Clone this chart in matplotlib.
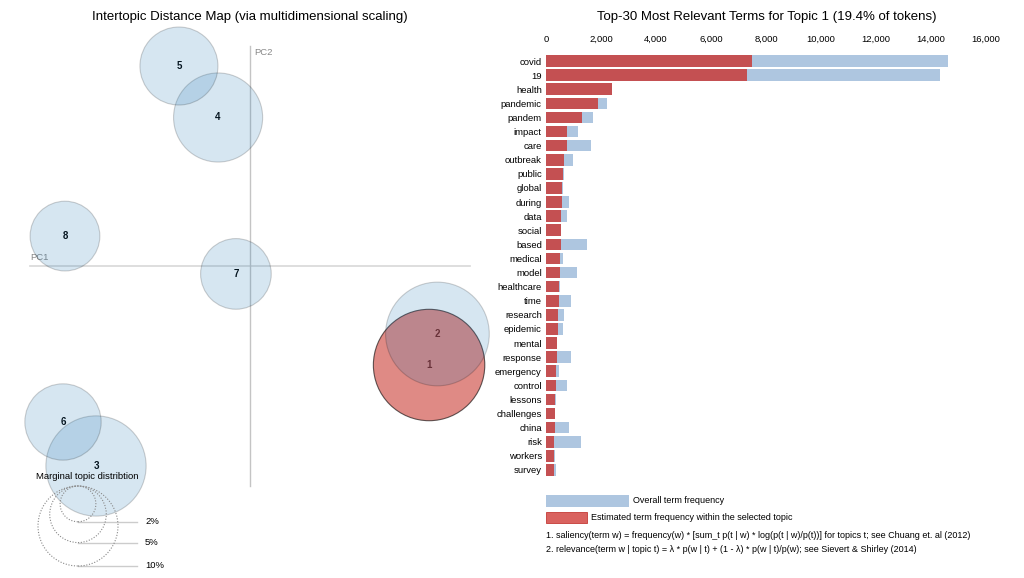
import numpy as np
import matplotlib
matplotlib.use("Agg")
import matplotlib.pyplot as plt
from matplotlib.patches import Circle, Rectangle
from matplotlib.ticker import FuncFormatter

plt.rcParams['font.family'] = ['Liberation Sans', 'DejaVu Sans']

# topics: position on the two principal components and share of tokens (%)
topic_ids = [1, 2, 3, 4, 5, 6, 7, 8]
pc1 = [0.814, 0.852, -0.700, -0.145, -0.323, -0.850, -0.064, -0.841]
pc2 = [-0.450, -0.309, -0.909, 0.675, 0.909, -0.709, -0.036, 0.136]
topic_pct = [19.4, 16.8, 15.7, 12.4, 9.5, 9.1, 7.8, 7.6]
legend_pct = [2, 5, 10]
selected = 1

# top-30 terms for topic 1
terms = ['covid', '19', 'health', 'pandemic', 'pandem', 'impact', 'care',
         'outbreak', 'public', 'global', 'during', 'data', 'social', 'based',
         'medical', 'model', 'healthcare', 'time', 'research', 'epidemic',
         'mental', 'response', 'emergency', 'control', 'lessons',
         'challenges', 'china', 'risk', 'workers', 'survey']
overall_freq = [14600, 14330, 2400, 2200, 1700, 1150, 1620, 980, 640, 600,
                840, 750, 540, 1480, 630, 1115, 500, 920, 655, 630,
                400, 910, 460, 775, 350, 345, 850, 1260, 310, 375]
topic_freq = [7490, 7320, 2390, 1900, 1310, 775, 760, 655, 630, 590,
              570, 560, 530, 530, 510, 500, 485, 475, 450, 425,
              390, 390, 375, 375, 340, 340, 330, 305, 290, 290]

BLUE = '#1f77b4'
BAR_BLUE = '#aec6e0'
BAR_RED = '#c45052'
W, H = 1024, 578
SCALE = 220.0  # pixels per PC unit
FS = 6.8
FS_NOTE = 6.5


def radius(p):
    # circle area proportional to the share, 10% -> 40 px
    return 40.0 * np.sqrt(p / 10.0) / SCALE


fig = plt.figure(figsize=(W / 100, H / 100), dpi=100)

# ---- left: intertopic distance map
ax = fig.add_axes([0, 0, 500 / W, 1])
ax.set_xlim(-250 / SCALE, 250 / SCALE)
ax.set_ylim(-312 / SCALE, 266 / SCALE)
ax.axis('off')

ax.plot([-1, 1], [0, 0], color='#d8d8d8', lw=1.2, zorder=0)
ax.plot([0, 0], [-1, 1], color='#c4c4c4', lw=1, zorder=0)
ax.text(-1, 0.02, 'PC1', color='#888888', fontsize=FS, ha='left', va='bottom')
ax.text(0.02, 0.99, 'PC2', color='#888888', fontsize=FS, ha='left', va='top')

# labels sit under the translucent circles
for t, x, y in zip(topic_ids, pc1, pc2):
    ax.text(x, y, str(t), ha='center', va='center', fontsize=7,
            fontweight='bold', zorder=1)

i = topic_ids.index(selected)
ax.add_patch(Circle((pc1[i], pc2[i]), radius(topic_pct[i]), facecolor='#cb3c34',
                    alpha=0.6, edgecolor='none', zorder=2))
ax.add_patch(Circle((pc1[i], pc2[i]), radius(topic_pct[i]), facecolor='none',
                    edgecolor=(0, 0, 0, 0.6), lw=0.8, zorder=2))

for t, x, y, p in zip(topic_ids, pc1, pc2, topic_pct):
    if t == selected:
        continue
    ax.add_patch(Circle((x, y), radius(p), facecolor=BLUE, alpha=0.18,
                        edgecolor='none', zorder=3))
    ax.add_patch(Circle((x, y), radius(p), facecolor='none',
                        edgecolor=(0, 0, 0, 0.18), lw=0.8, zorder=3))

# marginal topic distribution legend
lx = -172 / SCALE
ax.text(-163 / SCALE, -0.955, 'Marginal topic distribtion', ha='center',
        va='center', fontsize=FS, zorder=5)
for p in legend_pct:
    r = radius(p)
    ax.add_patch(Circle((lx, -1 - r), r, facecolor='none', edgecolor='#888888',
                        lw=0.8, linestyle=(0, (1, 1.5)), zorder=5))
    ax.plot([lx, -113 / SCALE], [-1 - 2 * r, -1 - 2 * r], color='#cccccc',
            lw=1, zorder=1)
    ax.text(-105 / SCALE, -1 - 2 * r, '{}%'.format(p), ha='left',
            va='center', fontsize=FS)

fig.text(250 / W, 1 - 17 / H,
         'Intertopic Distance Map (via multidimensional scaling)',
         ha='center', va='center', fontsize=9.5)

# ---- right: bar chart of relevant terms
bx = fig.add_axes([546 / W, (H - 477) / H, 440 / W, 423 / H])
ypos = np.arange(len(terms))
bx.barh(ypos, overall_freq, height=0.82, color=BAR_BLUE)
bx.barh(ypos, topic_freq, height=0.82, color=BAR_RED)
bx.set_xlim(0, 16000)
bx.set_ylim(len(terms) - 0.5, -0.5)
bx.set_yticks(ypos)
bx.set_yticklabels(terms, fontsize=FS)
bx.xaxis.tick_top()
bx.set_xticks(np.arange(0, 16001, 2000))
bx.xaxis.set_major_formatter(FuncFormatter(lambda v, _: '{:,.0f}'.format(v)))
bx.tick_params(axis='x', length=0, pad=7, labelsize=FS)
bx.tick_params(axis='y', length=0, pad=3)
for s in bx.spines.values():
    s.set_visible(False)

fig.text(767 / W, 1 - 17 / H,
         'Top-30 Most Relevant Terms for Topic 1 (19.4% of tokens)',
         ha='center', va='center', fontsize=9.5)

# legend for bars
fig.add_artist(Rectangle((546 / W, 1 - 506.5 / H), 82.5 / W, 11.5 / H,
                         transform=fig.transFigure, facecolor=BAR_BLUE,
                         edgecolor='none'))
fig.add_artist(Rectangle((546 / W, 1 - 523.3 / H), 40.5 / W, 11.5 / H,
                         transform=fig.transFigure, facecolor='#d9625f',
                         edgecolor='#c43a36', lw=0.6))
fig.text(633 / W, 1 - 500.5 / H, 'Overall term frequency', ha='left',
         va='center', fontsize=FS_NOTE)
fig.text(591 / W, 1 - 517.5 / H,
         'Estimated term frequency within the selected topic', ha='left',
         va='center', fontsize=FS_NOTE)
fig.text(546 / W, 1 - 535 / H,
         '1. saliency(term w) = frequency(w) * [sum_t p(t | w) * '
         'log(p(t | w)/p(t))] for topics t; see Chuang et. al (2012)',
         ha='left', va='center', fontsize=FS_NOTE)
fig.text(546 / W, 1 - 549 / H,
         '2. relevance(term w | topic t) = \u03bb * p(w | t) + (1 - \u03bb) * '
         'p(w | t)/p(w); see Sievert & Shirley (2014)',
         ha='left', va='center', fontsize=FS_NOTE)

fig.savefig('out.png', dpi=100)
